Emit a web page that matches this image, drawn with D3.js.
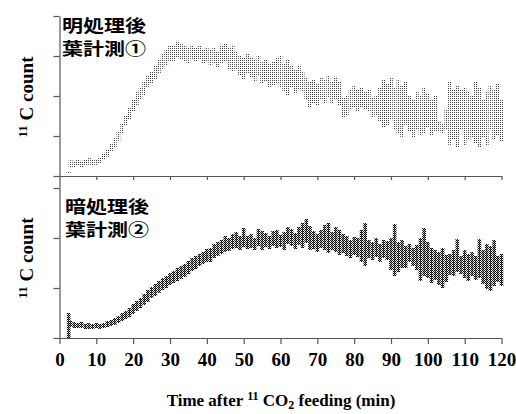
<!DOCTYPE html>
<html><head><meta charset="utf-8">
<script src="https://cdn.jsdelivr.net/npm/d3@7"></script>
<style>body{margin:0;background:#fff}svg{display:block}</style>
</head><body>
<svg id="c" width="516" height="414"></svg>
<script>
// time points (min)
const times = [2.5,3,4,5,6,7,8,9,10,11,12,13,14,15,16,17,18,19,20,21,22,23,24,25,26,27,28,29,30,31,32,33,34,35,36,37,38,39,40,41,42,43,44,45,46,47,48,49,50,51,52,53,54,55,56,57,58,59,60,61,62,63,64,65,66,67,68,69,70,71,72,73,74,75,76,77,78,79,80,81,82,83,84,85,86,87,88,89,90,91,92,93,94,95,96,97,98,99,100,101,102,103,104,105,106,107,108,109,110,111,112,113,114,115,116,117,118,119,120];
// panel 1 (light-treated leaf) : upper / lower end of each bar
const lightHi = [10,40,38,42,38,40,45,40,42,48,58,65,80,95,112,132,152,170,190,210,222,235,250,262,275,290,305,315,325,328,338,330,325,320,328,320,325,318,322,315,320,310,328,332,320,328,310,302,295,305,298,290,302,285,290,280,285,295,302,282,290,278,265,278,260,245,235,240,230,245,240,250,235,248,235,195,202,215,225,215,220,210,215,195,200,220,240,230,245,220,240,225,235,200,190,210,200,220,205,190,200,135,130,165,235,215,225,215,220,210,202,235,220,190,210,225,215,230,190];
const lightLo = [5,22,22,25,22,28,28,25,28,32,40,48,60,72,88,105,125,140,160,175,192,202,220,230,242,255,268,275,285,288,295,290,285,280,290,285,290,280,285,275,280,270,282,285,265,260,265,252,240,255,245,235,250,230,235,220,225,230,220,210,202,220,208,215,210,190,170,180,175,190,180,195,180,190,175,145,150,165,170,160,170,165,160,145,150,135,120,125,140,115,105,98,128,110,95,115,100,105,120,100,110,110,105,115,78,90,72,115,75,90,95,80,70,95,75,115,90,100,85];
// panel 2 (dark-treated leaf)
const darkHi = [50,34,32,30,32,28,30,28,30,28,30,34,36,40,44,50,54,60,68,74,80,88,96,102,108,114,120,124,130,134,140,144,148,154,160,164,168,172,178,180,188,192,196,204,200,208,212,204,220,204,208,200,218,214,210,204,214,216,206,212,222,218,210,222,230,238,224,214,208,216,226,230,212,222,216,208,204,196,202,200,216,230,196,192,200,188,196,194,200,228,192,196,184,188,180,186,200,220,192,180,176,172,180,166,168,176,198,164,176,168,172,164,198,176,188,184,196,164,168];
const darkLo = [0,22,20,20,20,18,18,18,20,18,20,22,24,26,30,34,38,42,48,54,60,66,72,80,84,90,96,100,106,110,114,118,122,128,134,138,144,148,152,152,160,164,168,172,174,178,180,176,182,178,180,176,184,176,182,178,184,180,182,176,188,184,178,186,180,190,176,178,172,180,176,170,176,172,166,170,164,160,166,162,152,144,160,156,162,152,160,156,136,124,132,140,140,152,144,136,114,124,120,110,116,106,100,112,126,124,132,128,120,114,124,116,120,108,98,94,104,112,104];
const xTicks = [0,10,20,30,40,50,60,70,80,90,100,110,120];
const lightYTicks = [0,100,200,300,400];
const darkYTicks = [0,100,200,300];
const panelLabels = [["明処理後","葉計測①"],["暗処理後","葉計測②"]];

const svg = d3.select("#c");
const x = d3.scaleLinear().domain([0,120]).range([59.5,501.5]);
const yTop = d3.scaleLinear().domain([0,400]).range([176,16]);
const yBot = d3.scaleLinear().domain([0,318]).range([338,179]);

const defs = svg.append("defs");
const p1 = defs.append("pattern").attr("id","dotGray").attr("patternUnits","userSpaceOnUse")
  .attr("width",2).attr("height",2);
p1.append("rect").attr("x",0).attr("y",0).attr("width",1).attr("height",1).attr("fill","#444");
const p2 = defs.append("pattern").attr("id","dotBlack").attr("patternUnits","userSpaceOnUse")
  .attr("width",2).attr("height",2);
p2.append("rect").attr("x",0).attr("y",0).attr("width",1).attr("height",1).attr("fill","#000");
p2.append("rect").attr("x",1).attr("y",1).attr("width",1).attr("height",1).attr("fill","#000");

const bw = x(1)-x(0);
const rows1 = times.map((t,i)=>({t,hi:lightHi[i],lo:lightLo[i]}));
const rows2 = times.map((t,i)=>({t,hi:darkHi[i],lo:darkLo[i]}));

svg.append("g").selectAll("rect").data(rows1).join("rect")
  .attr("x",d=>x(d.t)-bw/2).attr("width",bw)
  .attr("y",d=>yTop(d.hi)).attr("height",d=>Math.max(1,yTop(d.lo)-yTop(d.hi)))
  .attr("fill","url(#dotGray)");

svg.append("g").selectAll("rect").data(rows2).join("rect")
  .attr("x",d=>x(d.t)-bw/2).attr("width",bw)
  .attr("y",d=>yBot(d.hi)).attr("height",d=>Math.max(1,yBot(d.lo)-yBot(d.hi)))
  .attr("fill","url(#dotBlack)");
svg.append("g").selectAll("line").data(rows2).join("line")
  .attr("x1",d=>x(d.t)).attr("x2",d=>x(d.t))
  .attr("y1",d=>yBot(d.hi)).attr("y2",d=>yBot(d.lo))
  .attr("stroke","#111").attr("stroke-width",0.8);

function styleAxis(g){
  g.selectAll("path,line").attr("stroke","#555").attr("stroke-width",1.2);
}
// top panel axes
svg.append("g").attr("transform","translate(0,176)")
  .call(d3.axisBottom(x).tickValues(xTicks).tickSize(4).tickSizeOuter(0).tickFormat(""))
  .call(styleAxis);
svg.append("g").attr("transform","translate(59.5,0)")
  .call(d3.axisLeft(yTop).tickValues(lightYTicks).tickSize(6).tickSizeOuter(0).tickFormat(""))
  .call(styleAxis);
// bottom panel axes
const serif = "'Liberation Serif','Times New Roman',serif";
const xb = svg.append("g").attr("transform","translate(0,338)")
  .call(d3.axisBottom(x).tickValues(xTicks).tickSize(6).tickSizeOuter(0).tickPadding(9))
  .call(styleAxis);
xb.selectAll("text").attr("font-family",serif)
  .attr("font-weight","bold").attr("font-size",19).attr("fill","#000");
svg.append("g").attr("transform","translate(59.5,0)")
  .call(d3.axisLeft(yBot).tickValues(darkYTicks).tickSize(6).tickSizeOuter(0).tickFormat(""))
  .call(styleAxis);

// panel labels
const cjk = "'Noto Sans CJK JP','Noto Sans CJK SC',sans-serif";
[[62,32,55],[65,213,236]].forEach((p,i)=>{
  panelLabels[i].forEach((s,j)=>{
    svg.append("text").attr("transform",`translate(${p[0]},${p[1+j]}) scale(1.2,1)`).text(s)
      .attr("font-family",cjk).attr("font-weight","bold").attr("font-size",17.5).attr("fill","#000");
  });
});

// y labels
[97,258].forEach(cy=>{
  const t = svg.append("text").attr("transform",`translate(33,${cy}) rotate(-90)`)
    .attr("text-anchor","middle").attr("font-family",serif).attr("font-weight","bold")
    .attr("font-size",19).attr("fill","#000");
  t.append("tspan").text("11").attr("font-size",13).attr("dy",-6);
  t.append("tspan").text(" C count").attr("dy",6);
});

// x title
const xt = svg.append("text").attr("x",281).attr("y",406).attr("text-anchor","middle")
  .attr("font-family",serif).attr("font-weight","bold").attr("font-size",17).attr("fill","#000");
xt.append("tspan").text("Time after ");
xt.append("tspan").text("11").attr("font-size",12).attr("dy",-6);
xt.append("tspan").text(" CO").attr("dy",6);
xt.append("tspan").text("2").attr("font-size",12).attr("dy",3);
xt.append("tspan").text(" feeding (min)").attr("dy",-3);
</script>
</body></html>
